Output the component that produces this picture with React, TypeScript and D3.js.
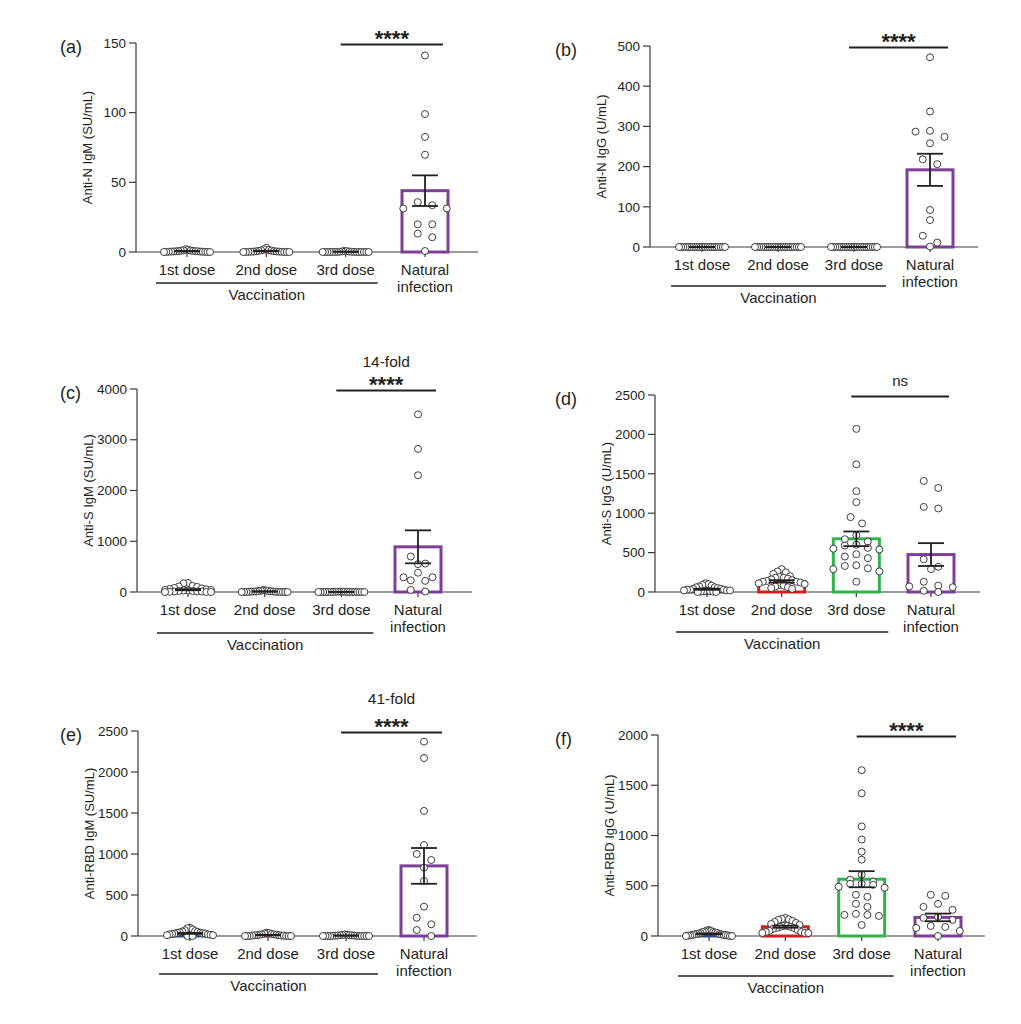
import React from 'react'
import * as d3 from 'd3'

// groups shared by all six panels
const groups = ['1st dose', '2nd dose', '3rd dose', 'Natural infection']
const barColors = ['#2b4a8e', '#d81e1e', '#2fb34a', '#7d3f98']

// (a) Anti-N IgM
const aFirst = [2.0, 1.6, 1.2, 1.0, 0.9, 0.8, 0.7, 0.6, 0.5, 0.5, 0.4, 0.3, 0.3, 0.2, 0.2, 0.1, 0.1, 0, 0, 0]
const aSecond = [3.0, 2.0, 1.5, 1.2, 1.0, 0.8, 0.6, 0.5, 0.4, 0.3, 0.3, 0.2, 0.1, 0.1, 0, 0, 0, 0, 0]
const aThird = [0.8, 0.6, 0.4, 0.3, 0.2, 0.2, 0.1, 0.1, 0.1, 0, 0, 0, 0, 0, 0, 0, 0, 0, 0, 0]
const aNatural = [141, 99, 82.6, 69.8, 35.8, 33.6, 31.2, 31.2, 19.9, 19.9, 13.2, 10.6, 0.7]
const aMeans = [0.6, 0.7, 0.2, 44]
const aSems = [0.15, 0.2, 0.05, 11]
const aTicks = [0, 50, 100, 150]

// (b) Anti-N IgG
const bFirst = [0, 0, 0, 0, 0, 0, 0, 0, 0, 0, 0, 0, 0, 0, 0, 0, 0, 0, 0, 0, 0, 0]
const bSecond = [0, 0, 0, 0, 0, 0, 0, 0, 0, 0, 0, 0, 0, 0, 0, 0, 0, 0, 0, 0, 0, 0]
const bThird = [0, 0, 0, 0, 0, 0, 0, 0, 0, 0, 0, 0, 0, 0, 0, 0, 0, 0, 0, 0, 0, 0]
const bNatural = [472, 337, 289, 287, 274, 258, 218, 206, 92, 67, 28, 11, 1]
const bMeans = [0, 0, 0, 192]
const bSems = [0, 0, 0, 40]
const bTicks = [0, 100, 200, 300, 400, 500]

// (c) Anti-S IgM
const cFirst = [180, 170, 120, 110, 100, 80, 70, 60, 50, 40, 40, 30, 30, 20, 20, 10, 10, 10, 5, 0, 0, 0]
const cSecond = [40, 30, 25, 20, 20, 15, 10, 10, 10, 5, 5, 5, 5, 0, 0, 0, 0, 0, 0, 0]
const cThird = [10, 8, 5, 5, 4, 3, 2, 2, 1, 1, 0, 0, 0, 0, 0, 0, 0, 0, 0, 0]
const cNatural = [3500, 2820, 2300, 700, 560, 550, 380, 290, 290, 230, 220, 40, 10]
const cMeans = [45, 10, 2, 890]
const cSems = [11, 3, 0.7, 325]
const cTicks = [0, 1000, 2000, 3000, 4000]

// (d) Anti-S IgG
const dFirst = [110, 100, 90, 80, 70, 60, 60, 50, 40, 40, 30, 30, 30, 20, 20, 20, 10, 10, 10, 5, 5, 0, 0]
const dSecond = [290, 260, 250, 230, 200, 190, 180, 180, 170, 160, 150, 140, 130, 130, 120, 110, 100, 90, 80, 70, 60, 50, 40]
const dThird = [2070, 1620, 1280, 1140, 950, 870, 720, 670, 640, 600, 590, 560, 550, 540, 480, 450, 430, 340, 330, 300, 290, 260, 130]
const dNatural = [1410, 1320, 1080, 1060, 415, 320, 290, 130, 80, 70, 60, 15, 0]
const dMeans = [35, 135, 675, 475]
const dSems = [7, 15, 93, 145]
const dTicks = [0, 500, 1000, 1500, 2000, 2500]

// (e) Anti-RBD IgM
const eFirst = [100, 95, 80, 70, 60, 55, 50, 45, 40, 40, 35, 30, 30, 25, 20, 20, 15, 10, 10, 5, 0, 0]
const eSecond = [40, 35, 30, 25, 20, 20, 15, 15, 10, 10, 10, 5, 5, 5, 0, 0, 0, 0, 0, 0]
const eThird = [20, 15, 12, 10, 10, 8, 5, 5, 5, 3, 2, 0, 0, 0, 0, 0, 0, 0, 0, 0]
const eNatural = [2370, 2170, 1525, 1110, 1000, 927, 833, 671, 358, 223, 143, 73, 0]
const eMeans = [32, 12, 5, 855]
const eSems = [6, 3, 1.5, 218]
const eTicks = [0, 500, 1000, 1500, 2000, 2500]

// (f) Anti-RBD IgG
const fFirst = [60, 55, 50, 45, 40, 40, 35, 30, 30, 25, 20, 20, 15, 15, 10, 10, 10, 5, 5, 5, 0, 0, 0]
const fSecond = [180, 170, 165, 160, 150, 140, 130, 120, 110, 100, 100, 90, 90, 80, 80, 70, 60, 50, 40, 40, 30, 30, 30]
const fThird = [1650, 1420, 1090, 960, 840, 760, 610, 560, 540, 520, 520, 510, 490, 480, 410, 390, 320, 290, 220, 210, 210, 200, 110]
const fNatural = [410, 400, 320, 290, 260, 190, 180, 160, 100, 90, 80, 50, 0]
const fMeans = [22, 92, 565, 185]
const fSems = [4, 10, 80, 38]
const fTicks = [0, 500, 1000, 1500, 2000]

const panels = [
  { label: '(a)', title: 'Anti-N IgM (SU/mL)', ticks: aTicks, values: [aFirst, aSecond, aThird, aNatural], means: aMeans, sems: aSems, sig: '****', note: '' },
  { label: '(b)', title: 'Anti-N IgG (U/mL)', ticks: bTicks, values: [bFirst, bSecond, bThird, bNatural], means: bMeans, sems: bSems, sig: '****', note: '' },
  { label: '(c)', title: 'Anti-S IgM (SU/mL)', ticks: cTicks, values: [cFirst, cSecond, cThird, cNatural], means: cMeans, sems: cSems, sig: '****', note: '14-fold' },
  { label: '(d)', title: 'Anti-S IgG (U/mL)', ticks: dTicks, values: [dFirst, dSecond, dThird, dNatural], means: dMeans, sems: dSems, sig: 'ns', note: '' },
  { label: '(e)', title: 'Anti-RBD IgM (SU/mL)', ticks: eTicks, values: [eFirst, eSecond, eThird, eNatural], means: eMeans, sems: eSems, sig: '****', note: '41-fold' },
  { label: '(f)', title: 'Anti-RBD IgG (U/mL)', ticks: fTicks, values: [fFirst, fSecond, fThird, fNatural], means: fMeans, sems: fSems, sig: '****', note: '' },
]

// where each panel sits on the page
const layouts = [
  { axisX: 136, top: 43, bottom: 252, first: 187, last: 425, end: 478, vac: 31, labelX: 60, noteGap: 0 },
  { axisX: 650, top: 46, bottom: 247, first: 702, last: 930, end: 978, vac: 39, labelX: 555, noteGap: 0 },
  { axisX: 137, top: 389, bottom: 592, first: 188, last: 418, end: 472, vac: 41, labelX: 60, noteGap: 24 },
  { axisX: 655, top: 395, bottom: 592, first: 707, last: 931, end: 980, vac: 40, labelX: 555, noteGap: 0 },
  { axisX: 138, top: 731, bottom: 936, first: 190, last: 424, end: 477, vac: 38, labelX: 60, noteGap: 29 },
  { axisX: 658, top: 735, bottom: 936, first: 709, last: 938, end: 985, vac: 40, labelX: 555, noteGap: 0 },
]

const FONT = '"Liberation Sans", Arial, sans-serif'
const INK = '#231f20'
const AXIS = '#3a3a3a'
const R = 3.5
const ROW_H = 7.5
const SPREAD = 46
const MAX_GAP = 14.5
const BAR_W = 46

// GraphPad-like scatter: points of similar height share a row, rows are centred,
// the highest point of a row goes in the middle and the rest fan out to both sides
function swarm(values: number[], y: d3.ScaleLinear<number, number>, cx: number) {
  const pts = values.map(v => ({ v, py: y(v) })).sort((p, q) => p.py - q.py)
  const rows: { v: number; py: number }[][] = []
  let cur: { v: number; py: number }[] = []
  for (const p of pts) {
    if (cur.length && p.py - cur[0].py > ROW_H) {
      rows.push(cur)
      cur = []
    }
    cur.push(p)
  }
  if (cur.length) rows.push(cur)
  const widest = d3.max(rows, r => r.length) || 1
  const gap = widest > 1 ? Math.min(MAX_GAP, SPREAD / (widest - 1)) : 0
  return rows.flatMap(r => {
    const slots = d3
      .range(r.length)
      .map(k => (k - (r.length - 1) / 2) * gap)
      .sort((s, t) => Math.abs(s) - Math.abs(t) || s - t)
    return r.map((p, i) => ({ x: cx + slots[i], y: p.py }))
  })
}

const Panel = ({ p, l }: { p: (typeof panels)[number]; l: (typeof layouts)[number] }) => {
  const yMax = p.ticks[p.ticks.length - 1]
  const y = d3.scaleLinear().domain([0, yMax]).range([l.bottom, l.top])
  const x = d3.scalePoint<string>().domain(groups).range([l.first, l.last])
  const cx = (g: string) => x(g) as number

  const sigX0 = cx(groups[2]) - 5
  const sigX1 = cx(groups[3]) + 18
  const sigY = l.top + 1.5
  const vacY = l.bottom + l.vac
  const vacX0 = cx(groups[0]) - 31
  const vacX1 = cx(groups[2]) + 32

  return (
    <g>
      <text x={l.labelX} y={l.top + 10} fontSize={18} fill={INK}>{p.label}</text>

      {/* y axis */}
      <line x1={l.axisX} x2={l.axisX} y1={l.top} y2={l.bottom} stroke={AXIS} strokeWidth={1.2} />
      {p.ticks.map(t => (
        <g key={t}>
          <line x1={l.axisX - 7} x2={l.axisX} y1={y(t)} y2={y(t)} stroke={AXIS} strokeWidth={1.2} />
          <text x={l.axisX - 10} y={y(t)} dy="0.35em" textAnchor="end" fontSize={13.5} fill={INK}>{t}</text>
        </g>
      ))}
      <text
        transform={`translate(${l.axisX - 44},${(l.top + l.bottom) / 2}) rotate(-90)`}
        textAnchor="middle"
        fontSize={13}
        fill={INK}
      >
        {p.title}
      </text>

      {/* x axis */}
      <line x1={l.axisX} x2={l.end} y1={l.bottom} y2={l.bottom} stroke={AXIS} strokeWidth={1.2} />
      {groups.map(g => (
        <line key={g} x1={cx(g)} x2={cx(g)} y1={l.bottom} y2={l.bottom + 5} stroke={AXIS} strokeWidth={1.2} />
      ))}
      {groups.map(g => {
        const words = g === 'Natural infection' ? ['Natural', 'infection'] : [g]
        return (
          <text key={g} x={cx(g)} y={l.bottom + 23} textAnchor="middle" fontSize={15} fill={INK}>
            {words.map((w, i) => (
              <tspan key={w} x={cx(g)} dy={i === 0 ? 0 : 17}>{w}</tspan>
            ))}
          </text>
        )
      })}
      <line x1={vacX0} x2={vacX1} y1={vacY} y2={vacY} stroke={INK} strokeWidth={1.6} />
      <text x={(vacX0 + vacX1) / 2} y={vacY + 17} textAnchor="middle" fontSize={15} fill={INK}>Vaccination</text>

      {/* hollow bars */}
      {groups.map((g, i) => (
        <rect
          key={g}
          x={cx(g) - BAR_W / 2}
          y={y(p.means[i])}
          width={BAR_W}
          height={l.bottom - y(p.means[i])}
          fill="none"
          stroke={barColors[i]}
          strokeWidth={3}
        />
      ))}

      {/* individual values */}
      {groups.map((g, i) =>
        swarm(p.values[i], y, cx(g)).map((pt, j) => (
          <circle key={g + j} cx={pt.x} cy={pt.y} r={R} fill="#fff" stroke="#2a2a2a" strokeWidth={0.9} />
        ))
      )}

      {/* mean ± SEM */}
      {groups.map((g, i) => {
        const hi = y(p.means[i] + p.sems[i])
        const lo = y(Math.max(0, p.means[i] - p.sems[i]))
        const c = cx(g)
        return (
          <g key={g} stroke={INK} strokeWidth={1.8}>
            <line x1={c} x2={c} y1={hi} y2={lo} />
            <line x1={c - 13} x2={c + 13} y1={hi} y2={hi} />
            <line x1={c - 13} x2={c + 13} y1={lo} y2={lo} />
          </g>
        )
      })}

      {/* significance */}
      <line x1={sigX0} x2={sigX1} y1={sigY} y2={sigY} stroke={INK} strokeWidth={2} />
      {p.sig === 'ns' ? (
        <text x={(sigX0 + sigX1) / 2} y={sigY - 11} textAnchor="middle" fontSize={15} fill={INK}>ns</text>
      ) : (
        <text x={(sigX0 + sigX1) / 2} y={sigY + 1} textAnchor="middle" fontSize={22} fontWeight="bold" fill={INK}>{p.sig}</text>
      )}
      {p.note && (
        <text x={(sigX0 + sigX1) / 2} y={sigY - l.noteGap} textAnchor="middle" fontSize={15.5} fill={INK}>{p.note}</text>
      )}
    </g>
  )
}

export default function App() {
  return (
    <svg
      width={1021}
      height={1024}
      style={{ position: 'absolute', left: 0, top: 0, background: '#fff', fontFamily: FONT }}
    >
      {panels.map((p, i) => (
        <Panel key={p.label} p={p} l={layouts[i]} />
      ))}
    </svg>
  )
}
